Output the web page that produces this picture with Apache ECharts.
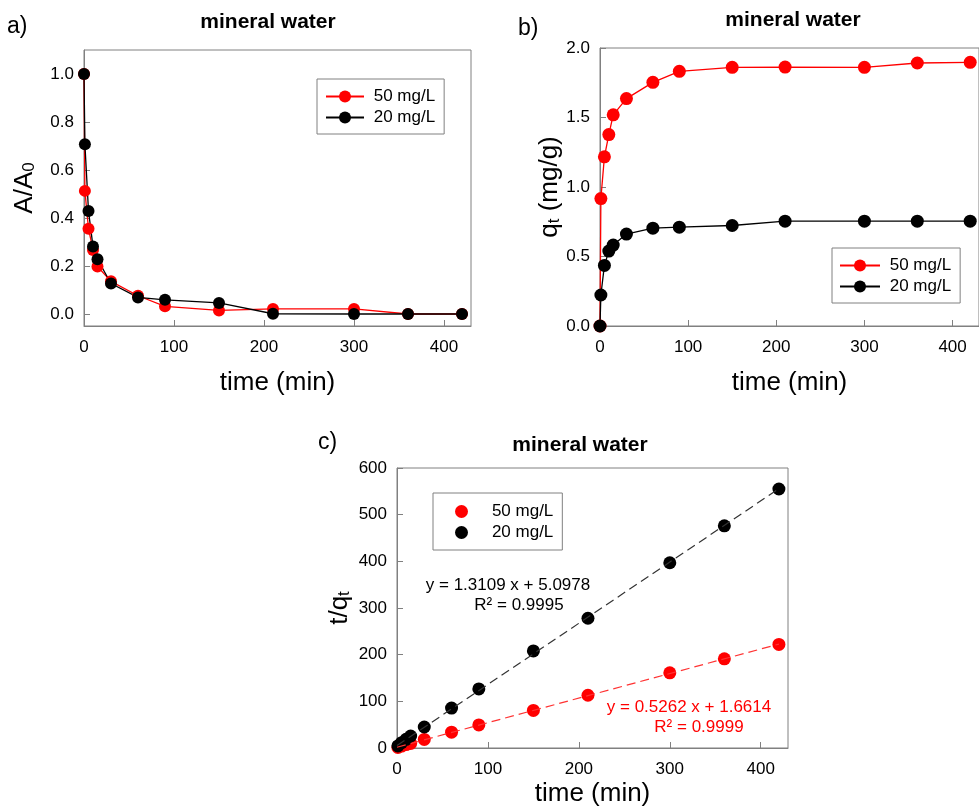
<!DOCTYPE html>
<html>
<head>
<meta charset="utf-8">
<title>mineral water</title>
<script src="https://cdn.jsdelivr.net/npm/echarts@6/dist/echarts.min.js"></script>
<style>
html,body{margin:0;padding:0;background:#fff;}
#chart{width:979px;height:808px;}
</style>
</head>
<body>
<div id="chart"></div>
<script>
// sampling times (min)
let time=[0,1,5,10,15,30,60,90,150,210,300,360,420]
// a) A/A0
let a50=[1.0,0.513,0.355,0.267,0.198,0.136,0.076,0.032,0.015,0.021,0.021,0.0,0.0]
let a20=[1.0,0.707,0.429,0.281,0.228,0.127,0.069,0.059,0.046,0.001,0.0,0.0,0.0]
// b) qt (mg/g)
let q50=[0,0.917,1.217,1.377,1.519,1.636,1.753,1.832,1.861,1.863,1.861,1.892,1.897]
let q20=[0,0.223,0.436,0.539,0.582,0.661,0.704,0.711,0.723,0.754,0.754,0.754,0.754]
// c) t/qt, t=0 left out
let timeC=[1,5,10,15,30,60,90,150,210,300,360,420]
let tq50=[1.1,4.1,7.3,9.9,18.3,34,49.5,80.5,113,161,191,222]
let tq20=[4.5,11.5,18.6,25.7,45,85.5,126.5,208,278,397,476,555]
// trendline [slope, intercept] as printed on the chart, drawn over x range
let fit50=[0.5262,1.6614]
let fit20=[1.3109,5.0978]
let fitRange=[0,420]
// ticks
let xTicks=[0,100,200,300,400]
let aTicks=[0,0.2,0.4,0.6,0.8,1.0]
let bTicks=[0,0.5,1.0,1.5,2.0]
let cTicks=[0,100,200,300,400,500,600]

let FONT='Liberation Sans, Arial, sans-serif'
let RED='#ff0000'
let GREY='#808080'

function pairs(xs,ys){
    let out=[]
    for(let i=0;i<xs.length;i++){
        out.push([xs[i],ys[i]])
    }
    return out
}
function fitLine(f){
    return fitRange.map(x=>[x,f[0]*x+f[1]])
}

function xAxis(idx,name,gap){
    return {
        type:'value',gridIndex:idx,min:0,max:430,
        name:name,nameLocation:'middle',nameGap:gap,
        nameTextStyle:{fontSize:26,color:'#000',fontFamily:FONT},
        axisLine:{show:true,onZero:false,lineStyle:{color:GREY,width:1}},
        axisTick:{show:true,inside:true,length:6,customValues:xTicks,lineStyle:{color:GREY}},
        axisLabel:{customValues:xTicks,margin:13,fontSize:17,color:'#000',fontFamily:FONT},
        splitLine:{show:false}
    }
}
function yAxis(idx,min,max,ticks,dec,name,gap,rich){
    return {
        type:'value',gridIndex:idx,min:min,max:max,
        name:name,nameLocation:'middle',nameRotate:90,nameGap:gap,
        nameTextStyle:{fontSize:26,color:'#000',fontFamily:FONT,rich:rich},
        axisLine:{show:true,onZero:false,lineStyle:{color:GREY,width:1}},
        axisTick:{show:true,inside:true,length:6,customValues:ticks,lineStyle:{color:GREY}},
        axisLabel:{customValues:ticks,margin:10,fontSize:17,color:'#000',fontFamily:FONT,
            formatter:v=>v.toFixed(dec)},
        splitLine:{show:false}
    }
}
let subRich={
    n:{fontSize:26,lineHeight:26,fontFamily:FONT,color:'#000'},
    s:{fontSize:17,lineHeight:17,fontFamily:FONT,color:'#000',verticalAlign:'bottom',padding:[14,0,0,0]}
}

function lineSeries(name,xi,data,color,size){
    return {
        name:name,type:'line',xAxisIndex:xi,yAxisIndex:xi,data:data,
        symbol:'circle',symbolSize:size,
        itemStyle:{color:color},
        lineStyle:{color:color,width:1.3}
    }
}
function legendBox(left,top,pad,itemWidth,itemHeight,icon,spaces){
    let names=['50 mg/L','20 mg/L']
    return {
        orient:'vertical',left:left,top:top,padding:pad,
        borderColor:GREY,borderWidth:1,
        itemWidth:itemWidth,itemHeight:itemHeight,itemGap:4,selectedMode:false,
        textStyle:{fontSize:17,color:'#000',fontFamily:FONT},
        formatter:n=>spaces+n,
        data:names.map(n=>icon?{name:n,icon:icon}:{name:n})
    }
}
function txt(x,y,s,size,color,align,bold){
    return {
        type:'text',x:x,y:y,
        style:{text:s,fontSize:size,fontFamily:FONT,fill:color||'#000',
            align:align||'left',verticalAlign:'middle',fontWeight:bold?'bold':'normal'}
    }
}

let chart=echarts.init(document.getElementById('chart'),null,{renderer:'canvas'})
let option={
    animation:false,
    backgroundColor:'#fff',
    grid:[
        {left:84,top:50,width:387,height:276,show:true,borderColor:GREY,borderWidth:1},
        {left:600,top:48,width:388,height:278,show:true,borderColor:GREY,borderWidth:1},
        {left:397,top:468,width:391,height:282,show:true,borderColor:GREY,borderWidth:1}
    ],
    xAxis:[
        xAxis(0,'time (min)',44),
        xAxis(1,'time (min)',44),
        xAxis(2,'time (min)',33)
    ],
    yAxis:[
        yAxis(0,-0.05,1.1,aTicks,1,'{n|A/A}{s|0}',46,subRich),
        yAxis(1,0,2.0,bTicks,1,'{n|q}{s|t}{n| (mg/g)}',37,subRich),
        yAxis(2,0,600,cTicks,0,'{n|t/q}{s|t}',44,subRich)
    ],
    legend:[
        legendBox(317,79,[9,9,8,8],38,15,null,' '),
        legendBox(832,248,[9,9,8,7],40,15,null,' '),
        legendBox(433,493,[10,9,9,22],13,13,'circle','    ')
    ],
    series:[
        lineSeries('50 mg/L',0,pairs(time,a50),RED,12),
        lineSeries('20 mg/L',0,pairs(time,a20),'#000',12),
        lineSeries('50 mg/L',1,pairs(time,q50),RED,13),
        lineSeries('20 mg/L',1,pairs(time,q20),'#000',13),
        {
            name:'fit 50',type:'line',xAxisIndex:2,yAxisIndex:2,data:fitLine(fit50),
            symbol:'none',lineStyle:{color:'#ff3333',width:1.2,type:[9,5]}
        },
        {
            name:'fit 20',type:'line',xAxisIndex:2,yAxisIndex:2,data:fitLine(fit20),
            symbol:'none',lineStyle:{color:'#333',width:1.2,type:[9,5]}
        },
        {
            name:'50 mg/L',type:'scatter',xAxisIndex:2,yAxisIndex:2,data:pairs(timeC,tq50),
            symbolSize:13,itemStyle:{color:RED,opacity:1}
        },
        {
            name:'20 mg/L',type:'scatter',xAxisIndex:2,yAxisIndex:2,data:pairs(timeC,tq20),
            symbolSize:13,itemStyle:{color:'#000',opacity:1}
        }
    ],
    graphic:[
        txt(7,27,'a)',23),
        txt(518,29,'b)',23),
        txt(318,443,'c)',23),
        txt(268,22,'mineral water',21,'#000','center',true),
        txt(793,20,'mineral water',21,'#000','center',true),
        txt(580,445,'mineral water',21,'#000','center',true),
        txt(508,585,'y = 1.3109 x + 5.0978',17,'#000','center'),
        txt(519,605,'R² = 0.9995',17,'#000','center'),
        txt(689,707,'y = 0.5262 x + 1.6614',17,RED,'center'),
        txt(699,727,'R² = 0.9999',17,RED,'center')
    ]
}
chart.setOption(option)
</script>
</body>
</html>
